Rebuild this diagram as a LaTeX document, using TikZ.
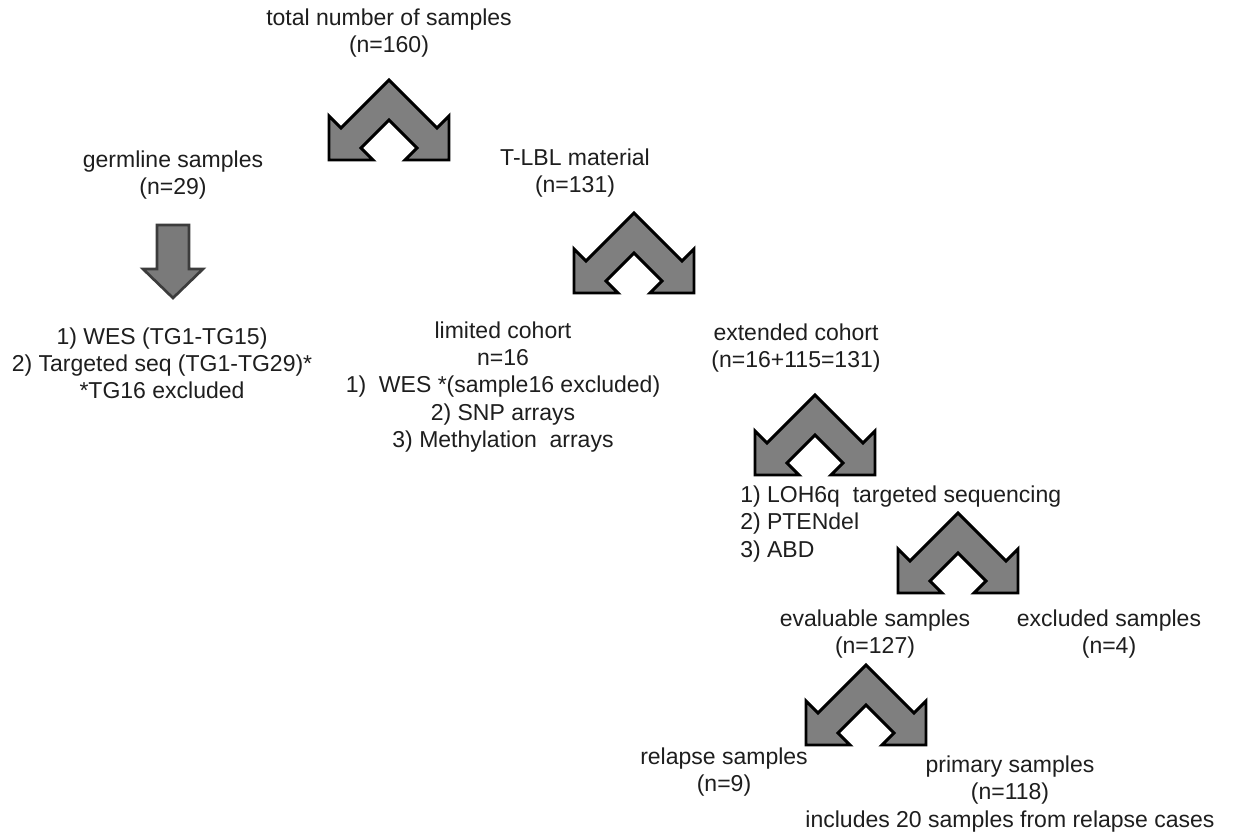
\documentclass[tikz,border=0pt]{standalone}
\usepackage{fontspec}
\setmainfont{Liberation Sans}
\definecolor{txt}{HTML}{1E1E1E}
\definecolor{arrowgray}{HTML}{7F7F7F}
\definecolor{downgray}{HTML}{7A7A7A}
\definecolor{downedge}{HTML}{3C3C3C}
\tikzset{
  lbl/.style={align=center, font=\fontsize{17.25}{20.3}\selectfont, text=txt, inner sep=0pt},
  chevstyle/.style={fill=arrowgray, draw=black, line width=2.2pt, line join=miter},
  downstyle/.style={fill=downgray, draw=downedge, line width=2pt, line join=miter},
  chevron/.pic={
    \path[chevstyle] (0,0) -- (-48,48) -- (-60,36) -- (-60,80) -- (-16,80) -- (-28,68)
      -- (0,40) -- (28,68) -- (16,80) -- (60,80) -- (60,36) -- (48,48) -- cycle;
  }
}
\begin{document}
\begin{tikzpicture}[x=0.75pt,y=-0.75pt]
\fill[white] (0,0) rectangle (1243,834);
\useasboundingbox (0,0) rectangle (1243,834);

% text nodes
\node[lbl] (total) at (389,33) {total number of samples\\(n=160)};
\node[lbl] (germ) at (173,175) {germline samples\\(n=29)};
\node[lbl] (tlbl) at (575,173) {T-LBL material\\(n=131)};
\node[lbl] (wes) at (162,363) {1) WES (TG1-TG15)\\2) Targeted seq (TG1-TG29)*\\*TG16 excluded};
\node[lbl] (limited) at (503,387) {limited cohort\\n=16\\1)\ \ WES *(sample16 excluded)\\2) SNP arrays\\3) Methylation\ \ arrays};
\node[lbl] (extended) at (796,348) {extended cohort\\(n=16+115=131)};
\node[lbl, align=left, anchor=west] (loh) at (740,524) {1) LOH6q\\2) PTENdel\\3) ABD};
\node[lbl] (tseq) at (957,497) {targeted sequencing};
\node[lbl] (eval) at (875,634) {evaluable samples\\(n=127)};
\node[lbl] (excl) at (1109,634) {excluded samples\\(n=4)};
\node[lbl] (relapse) at (724,772) {relapse samples\\(n=9)};
\node[lbl] (primary) at (1010,794) {primary samples\\(n=118)\\includes 20 samples from relapse cases};

% split arrows
\pic at (389,80) {chevron};
\pic at (634,213) {chevron};
\pic at (815,395) {chevron};
\pic at (958,513) {chevron};
\pic at (866,665) {chevron};

% down arrow
\path[downstyle] (157,225) -- (189,225) -- (189,269) -- (203,269) -- (173,298)
  -- (143,269) -- (157,269) -- cycle;
\end{tikzpicture}
\end{document}
